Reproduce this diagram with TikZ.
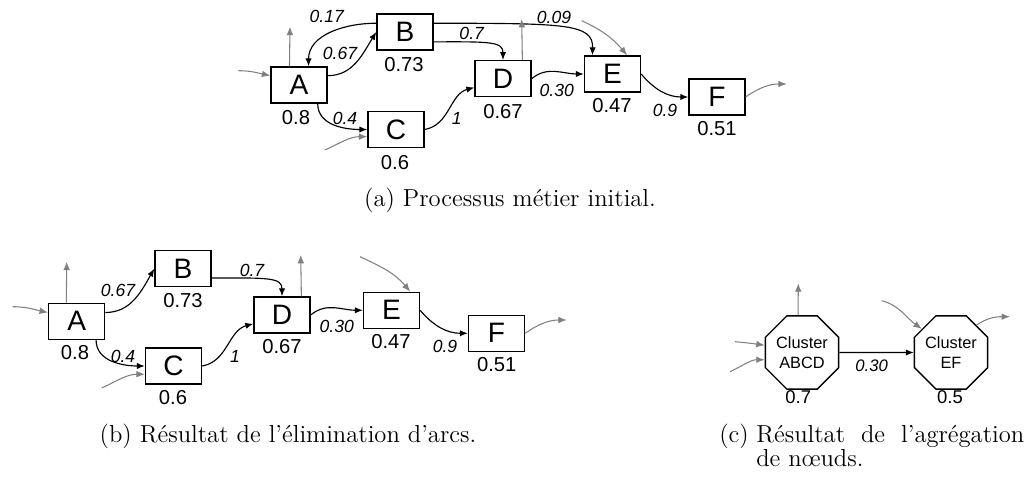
\documentclass[tikz,border=0pt]{standalone}
\usepackage{fontspec}
\newfontfamily\arial{Liberation Sans}
\usetikzlibrary{arrows.meta,shapes.geometric}
\begin{document}
\begin{tikzpicture}[x=0.02cm,y=-0.02cm,
  box/.style={draw, line width=0.8pt, minimum width=1.12cm, minimum height=0.72cm, inner sep=0pt, font=\arial\fontsize{16}{16}\selectfont},
  oct/.style={draw, line width=0.8pt, regular polygon, regular polygon sides=8, minimum size=1.494cm, inner sep=0pt, align=center, font=\arial\fontsize{9.3}{11}\selectfont},
  val/.style={inner sep=0pt, font=\arial\fontsize{11.5}{12}\selectfont},
  cval/.style={inner sep=0pt, font=\arial\fontsize{10.5}{11}\selectfont},
  elab/.style={inner sep=0pt, font=\arial\itshape\fontsize{10}{10}\selectfont},
  celab/.style={inner sep=0pt, font=\arial\itshape\fontsize{9.5}{10}\selectfont},
  edge/.style={line width=0.65pt, -{Latex[length=4.5pt,width=3.6pt]}},
  gedge/.style={line width=0.6pt, draw=gray, -{Latex[length=4.8pt,width=3.8pt]}, gray},
  captext/.style={inner sep=0pt, anchor=base, font=\fontsize{14}{16}\selectfont},
]
\path[use as bounding box] (0,0) rectangle (1028,479);

% ---------------- (a) ----------------
\node[box] (A) at (299,85) {A};
\node[box] (B) at (405,32) {B};
\node[box] (C) at (396,129.5) {C};
\node[box] (D) at (503,78.7) {D};
\node[box] (E) at (612.5,74) {E};
\node[box] (F) at (717,97) {F};

\node[val] (vA) at (296,117.5) {0.8};
\node[val] (vB) at (404,65) {0.73};
\node[val] (vC) at (395,162.5) {0.6};
\node[val] (vD) at (503,111.5) {0.67};
\node[val] (vE) at (612,106) {0.47};
\node[val] (vF) at (717,129) {0.51};

\node[elab] (lBA) at (326.7,16.7) {0.17};
\node[elab] (lAB) at (340,53.3) {0.67};
\node[elab] (lAC) at (345,118.3) {0.4};
\node[elab] (lBD) at (471.7,33.3) {0.7};
\node[elab] (lBE) at (554,17.3) {0.09};
\node[elab] (lCD) at (456.7,118.3) {1};
\node[elab] (lDE) at (556.7,90) {0.30};
\node[elab] (lEF) at (665,110) {0.9};

\draw[edge] (A.18) to[out=0,in=238] (B.west);
\draw[edge] (B.163) to[out=180,in=90] (A.63);
\draw[edge] (A.-45) to[out=-90,in=180] (C.west);
\draw[edge] (B.-19) .. controls (490,41.6) and (503,41.6) .. (D.north);
\draw[edge] (B.17) .. controls (565,23.4) and (593.2,23.4) .. (E.137);
\draw[edge] (C.east) to[out=10,in=195] (D.197);
\draw[edge] (D.east) to[out=40,in=180] (E.west);
\draw[edge] (E.east) to[out=-50,in=180] (F.west);

\coordinate (ga1) at (238.3,70.7);
\coordinate (ga2) at (290,26.7);
\coordinate (ga3) at (325,150);
\coordinate (ga4) at (521.7,19);
\coordinate (ga5) at (581.7,20.7);
\coordinate (ga6) at (786.7,84);
\draw[gedge] (ga1) to[out=0,in=168] (A.162);
\draw[gedge] (A.117) -- (ga2);
\draw[gedge] (ga3) to[out=25,in=180] (C.194);
\draw[gedge] (D.44) -- (ga4);
\draw[gedge] (ga5) to[out=-25,in=130] (E.52);
\draw[gedge] (F.east) to[out=35,in=180] (ga6);

\node[captext] (capa) at (510,206.7) {(a) Processus métier initial.};

% ---------------- (b) ----------------
\node[box] (A2) at (76.7,321.3) {A};
\node[box] (B2) at (183,268.7) {B};
\node[box] (C2) at (173.5,366) {C};
\node[box] (D2) at (282,315) {D};
\node[box] (E2) at (391.5,310.3) {E};
\node[box] (F2) at (496.5,333.3) {F};

\node[val] (vA2) at (75,353) {0.8};
\node[val] (vB2) at (183,301) {0.73};
\node[val] (vC2) at (173,398) {0.6};
\node[val] (vD2) at (282,347) {0.67};
\node[val] (vE2) at (391,342) {0.47};
\node[val] (vF2) at (496.7,365) {0.51};

\node[elab] (lAB2) at (118,290) {0.67};
\node[elab] (lAC2) at (123,356) {0.4};
\node[elab] (lBD2) at (252,270) {0.7};
\node[elab] (lCD2) at (235,356.7) {1};
\node[elab] (lDE2) at (336.7,326.7) {0.30};
\node[elab] (lEF2) at (445,346.7) {0.9};

\draw[edge] (A2.17) to[out=0,in=240] (B2.west);
\draw[edge] (A2.-44) to[out=-90,in=180] (C2.west);
\draw[edge] (B2.-18) .. controls (270,277.7) and (282,277.7) .. (D2.north);
\draw[edge] (C2.east) to[out=10,in=195] (D2.197);
\draw[edge] (D2.east) to[out=40,in=180] (E2.west);
\draw[edge] (E2.east) to[out=-50,in=180] (F2.west);

\coordinate (gb1) at (12.7,306.7);
\coordinate (gb2) at (66.7,261.7);
\coordinate (gb3) at (101.7,388);
\coordinate (gb4) at (300.7,255);
\coordinate (gb5) at (360,256.7);
\coordinate (gb6) at (566.7,320);
\draw[gedge] (gb1) to[out=0,in=168] (A2.163);
\draw[gedge] (A2.119) -- (gb2);
\draw[gedge] (gb3) to[out=25,in=180] (C2.196);
\draw[gedge] (D2.44) -- (gb4);
\draw[gedge] (gb5) to[out=-25,in=130] (E2.45);
\draw[gedge] (F2.east) to[out=35,in=180] (gb6);

\node[captext] (capb) at (288,442.5) {(b) Résultat de l’élimination d’arcs.};

% ---------------- (c) ----------------
\node[oct] (O1) at (802,352.5) {Cluster\\ABCD};
\node[oct] (O2) at (951,352.5) {Cluster\\EF};
\node[cval] (vO1) at (798.3,397.3) {0.7};
\node[cval] (vO2) at (950,397.3) {0.5};
\node[celab] (lO) at (871.7,366) {0.30};
\draw[edge] (O1.east) -- (O2.west);

\coordinate (gc1) at (735,341.7);
\coordinate (gc2) at (730,371.7);
\coordinate (gc3) at (798.3,283.3);
\coordinate (gc4) at (881.7,300.7);
\coordinate (gc5) at (1010,316.7);
\draw[gedge] (gc1) to[out=-5,in=172] (O1.169);
\draw[gedge] (gc2) to[out=25,in=180] (O1.191);
\draw[gedge] (O1.96) -- (gc3);
\draw[gedge] (gc4) to[out=-15,in=145] (O2.141);
\draw[gedge] (O2.47) to[out=35,in=180] (gc5);

\node[captext, anchor=base west] (capc1) at (719,442.5) {(c)};
\node[captext, anchor=base west] (capc2) at (756,442.5) {\makebox[5.36cm][s]{Résultat de l’agrégation}};
\node[captext, anchor=base west] (capc3) at (756,466.5) {de nœuds.};
\end{tikzpicture}
\end{document}
